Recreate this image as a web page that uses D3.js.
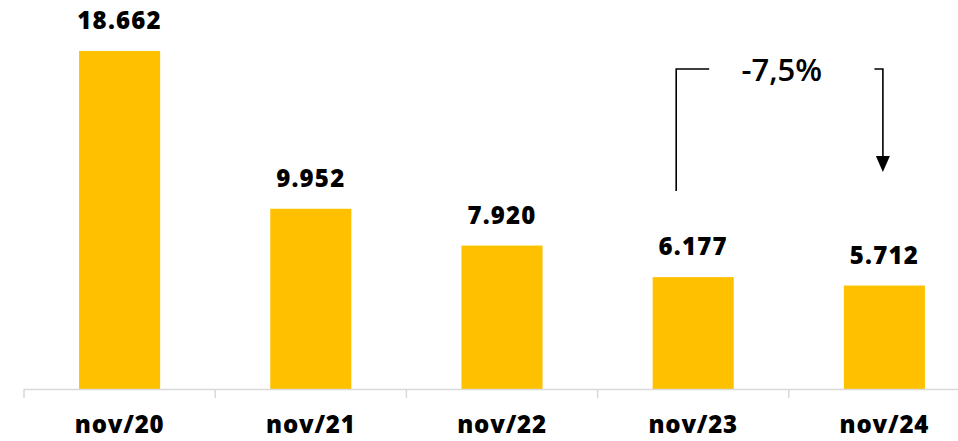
<!doctype html>
<html>
  <head>
    <script src="https://cdnjs.cloudflare.com/ajax/libs/d3/7.8.5/d3.min.js"></script>
  <style>
    body { margin: 0; background: #fff; }
    svg { display: block; }
    .domain { stroke: none; }
    .tick > line { stroke: none; }
    .xlab text {
      font-family: "Open Sans", sans-serif;
      font-weight: 800;
      font-size: 24px;
      letter-spacing: 0.8px;
      fill: #000;
    }
    .val {
      font-family: "Open Sans", sans-serif;
      font-weight: 800;
      font-size: 24px;
      letter-spacing: 1.2px;
      fill: #000;
    }
    .note {
      font-family: "Open Sans", sans-serif;
      font-weight: 600;
      font-size: 31px;
      fill: #000;
    }
  </style>
  </head>
  <body>
    <svg width="958" height="441"></svg>
    <script>
      var months = ["nov/20", "nov/21", "nov/22", "nov/23", "nov/24"];
      var values = [18662, 9952, 7920, 6177, 5712];
      var valueLabels = ["18.662", "9.952", "7.920", "6.177", "5.712"];
      var changeLabel = "-7,5%";

      var svg = d3.select("svg");
      var baseY = 389;

      var xScale = d3.scaleBand()
        .domain(months)
        .range([24, 980])
        .paddingInner(0.576)
        .paddingOuter(0.288);
      var yScale = d3.scaleLinear().domain([0, 18662]).range([baseY, 51]);
      var step = xScale.step();

      // bars
      svg.selectAll("rect.bar")
        .data(values)
        .enter().append("rect")
          .attr("class", "bar")
          .attr("x", (d, i) => xScale(months[i]))
          .attr("y", d => yScale(d))
          .attr("width", xScale.bandwidth())
          .attr("height", d => baseY - yScale(d))
          .attr("fill", "#FFC000");

      // value labels
      svg.selectAll("text.val")
        .data(values)
        .enter().append("text")
          .attr("class", "val")
          .attr("x", (d, i) => xScale(months[i]) + xScale.bandwidth() / 2)
          .attr("y", d => yScale(d) - 22)
          .attr("text-anchor", "middle")
          .text((d, i) => valueLabels[i]);

      // baseline + boundary ticks
      svg.append("line")
        .attr("x1", 24).attr("x2", 958)
        .attr("y1", baseY + 0.5).attr("y2", baseY + 0.5)
        .attr("stroke", "#d9d9d9").attr("stroke-width", 1.5);
      svg.selectAll("line.bt")
        .data(d3.range(months.length + 1))
        .enter().append("line")
          .attr("class", "bt")
          .attr("x1", i => 24 + i * step).attr("x2", i => 24 + i * step)
          .attr("y1", baseY).attr("y2", baseY + 9)
          .attr("stroke", "#d9d9d9").attr("stroke-width", 1.5);

      // category labels
      var xAxis = d3.axisBottom(xScale).tickSize(0).tickPadding(0);
      svg.append("g")
        .attr("class", "xlab")
        .attr("transform", "translate(0," + (baseY + 20) + ")")
        .call(xAxis)
        .selectAll("text").attr("dy", "1em");

      // change annotation
      var c3 = xScale(months[3]) + xScale.bandwidth() / 2;
      var c4 = xScale(months[4]) + xScale.bandwidth() / 2;
      var topY = 69;
      svg.append("path")
        .attr("d", "M" + (c3 + 16) + "," + topY + "H" + (c3 - 17) + "V191")
        .attr("fill", "none").attr("stroke", "#000").attr("stroke-width", 1.6);
      svg.append("path")
        .attr("d", "M" + (c4 - 10) + "," + topY + "H" + (c4 - 1.5) + "V158")
        .attr("fill", "none").attr("stroke", "#000").attr("stroke-width", 1.6);
      svg.append("path")
        .attr("d", "M" + (c4 - 8.5) + ",156L" + (c4 + 5.5) + ",156L" + (c4 - 1.5) + ",172Z")
        .attr("fill", "#000");
      svg.append("text")
        .attr("class", "note")
        .attr("x", (c3 + c4) / 2 - 7)
        .attr("y", 81)
        .attr("text-anchor", "middle")
        .text(changeLabel);
    </script>
  </body>
</html>
